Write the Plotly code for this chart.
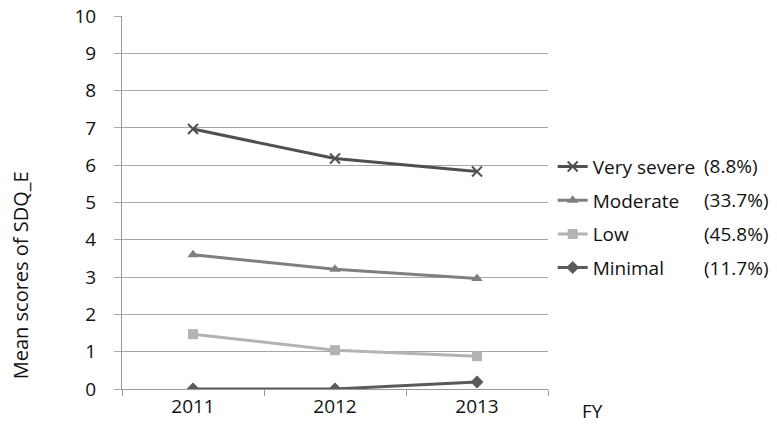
import plotly.graph_objects as go

years = ["2011", "2012", "2013"]
series_names = ["Very severe", "Moderate", "Low", "Minimal"]
shares = ["(8.8%)", "(33.7%)", "(45.8%)", "(11.7%)"]
very_severe = [6.97, 6.18, 5.83]
moderate = [3.60, 3.21, 2.96]
low = [1.47, 1.04, 0.88]
minimal = [0.0, 0.0, 0.19]

values = [very_severe, moderate, low, minimal]
colors = ["#505050", "#7f7f7f", "#b3b3b3", "#5a5a5a"]
symbols = ["x-thin", "triangle-up", "square", "diamond"]

FONT = "Open Sans, Liberation Sans, sans-serif"

fig = go.Figure()
for name, vals, col, sym in zip(series_names, values, colors, symbols):
    fig.add_trace(go.Scatter(
        x=years, y=vals, name=name, mode="lines+markers", legendgroup=name,
        line=dict(color=col, width=3),
        marker=dict(symbol=sym, size=10, color=col,
                    line=dict(color=col, width=2 if sym == "x-thin" else 0)),
    ))

# percentage column of the legend
for i, s in enumerate(shares):
    fig.add_annotation(x=1.3615, y=0.597 - i * 0.0912, xref="paper", yref="paper",
                       text=s, showarrow=False, xanchor="left", yanchor="middle",
                       font=dict(family=FONT, size=19, color="#111"))

fig.add_annotation(x=1.075, y=-0.059, xref="paper", yref="paper", text="FY",
                   showarrow=False, xanchor="left", yanchor="middle",
                   font=dict(family=FONT, size=19, color="#111"))

# y axis title, sitting low as in the original
fig.add_annotation(x=-0.2394, y=0.305, xref="paper", yref="paper",
                   text="Mean scores of SDQ_E", textangle=-90, showarrow=False,
                   xanchor="center", yanchor="middle",
                   font=dict(family=FONT, size=20, color="#111"))

# page body has an 8px margin, so the figure is drawn 8px smaller
fig.update_layout(
    width=769, height=425,
    margin=dict(l=114, r=229, t=8, b=44),
    paper_bgcolor="white", plot_bgcolor="white",
    font=dict(family=FONT, size=19, color="#111"),
    legend=dict(x=1.011, y=0.647, xanchor="left", yanchor="top",
                font=dict(family=FONT, size=19, color="#111"),
                tracegroupgap=6, itemwidth=30),
    xaxis=dict(type="category", range=[-0.5, 2.5], tickson="boundaries",
               ticks="outside", ticklen=6, tickcolor="#999", showline=True,
               linecolor="#999", showgrid=False, tickfont=dict(size=19),
               automargin=False),
    yaxis=dict(range=[0, 10], tickvals=list(range(11)), showgrid=True,
               gridcolor="#a6a6a6", ticks="outside", ticklen=7,
               tickcolor="#a6a6a6", ticklabelstandoff=14,
               ticklabeloverflow="allow",
               showline=True, linecolor="#999", zeroline=False,
               tickfont=dict(size=19), automargin=False),
)

fig.write_html("out.html")
